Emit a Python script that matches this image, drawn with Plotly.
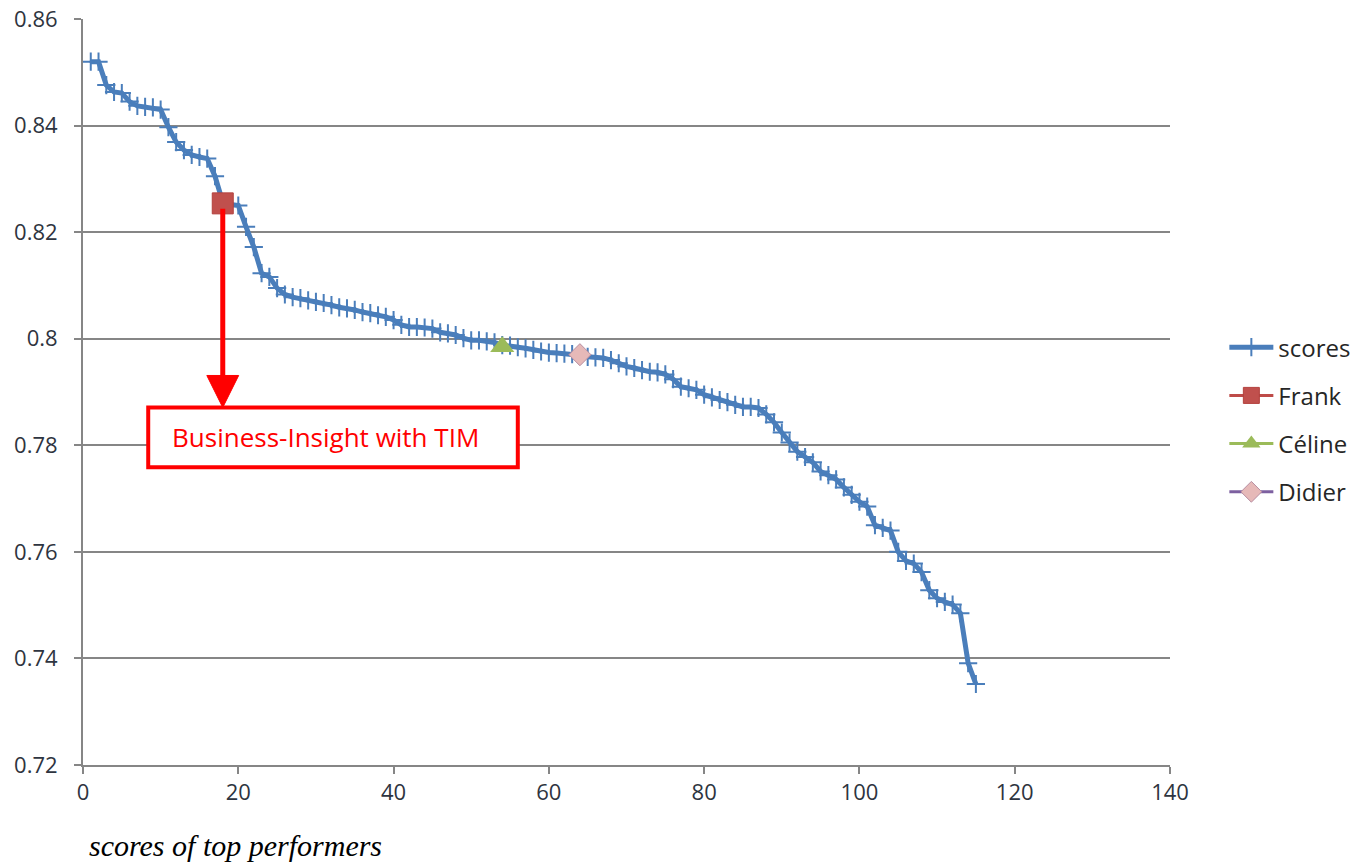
import plotly.graph_objects as go

# ---- data ----
ranks = list(range(1, 116))
scores = [
    0.8520, 0.8520, 0.8476, 0.8463, 0.8461, 0.8445, 0.8437, 0.8435, 0.8434, 0.8430,
    0.8397, 0.8369, 0.8354, 0.8345, 0.8341, 0.8338, 0.8305, 0.8256, 0.8252, 0.8250,
    0.8210, 0.8172, 0.8123, 0.8116, 0.8095, 0.8083, 0.8078, 0.8076, 0.8072, 0.8069,
    0.8067, 0.8063, 0.8059, 0.8057, 0.8054, 0.8050, 0.8048, 0.8044, 0.8041, 0.8035,
    0.8026, 0.8022, 0.8022, 0.8021, 0.8019, 0.8012, 0.8010, 0.8007, 0.8001, 0.7997,
    0.7997, 0.7995, 0.7993, 0.7988, 0.7987, 0.7984, 0.7982, 0.7979, 0.7976, 0.7974,
    0.7973, 0.7972, 0.7971, 0.7969, 0.7966, 0.7965, 0.7964, 0.7960, 0.7954, 0.7948,
    0.7945, 0.7941, 0.7938, 0.7937, 0.7933, 0.7924, 0.7910, 0.7907, 0.7904, 0.7895,
    0.7890, 0.7885, 0.7881, 0.7876, 0.7872, 0.7872, 0.7870, 0.7858, 0.7843, 0.7824,
    0.7805, 0.7788, 0.7778, 0.7768, 0.7751, 0.7744, 0.7736, 0.7721, 0.7707, 0.7694,
    0.7685, 0.7650, 0.7645, 0.7640, 0.7600, 0.7583, 0.7578, 0.7562, 0.7528, 0.7513,
    0.7506, 0.7501, 0.7485, 0.7391, 0.7352,
]
frank_x = [18]
frank_y = [0.8254]
celine_x = [54]
celine_y = [0.7985]
didier_x = [64]
didier_y = [0.7970]

y_tickvals = [0.72, 0.74, 0.76, 0.78, 0.80, 0.82, 0.84, 0.86]
y_ticktext = ["0.72", "0.74", "0.76", "0.78", "0.8", "0.82", "0.84", "0.86"]
x_tickvals = [0, 20, 40, 60, 80, 100, 120, 140]

annotation_text = "Business-Insight with TIM"
xaxis_caption = "scores of top performers"

# ---- figure ----
BLUE = "#4A7EBB"
RED = "#C0504D"
GREEN = "#9BBB59"
PURPLE = "#7D60A0"
PINK = "#E6B9B8"
GRID = "#868686"
TXT = "#2E3440"
FONT = "Open Sans"

fig = go.Figure()
fig.add_trace(go.Scatter(
    x=ranks, y=scores, name="scores", mode="lines+markers", legendgroup="a",
    line=dict(color=BLUE, width=5),
    marker=dict(symbol="cross-thin", size=13, color=BLUE, line=dict(width=2, color=BLUE)),
))
fig.add_trace(go.Scatter(
    x=frank_x, y=frank_y, name="Frank", mode="lines+markers", legendgroup="b",
    line=dict(color="#BE4B48", width=3),
    marker=dict(symbol="square", size=21, color=RED, line=dict(width=1, color="#B3403D")),
))
fig.add_trace(go.Scatter(
    x=celine_x, y=celine_y, name="Céline", mode="lines+markers", legendgroup="c",
    line=dict(color=GREEN, width=3),
    marker=dict(symbol="triangle-up", size=21, color=GREEN),
))
fig.add_trace(go.Scatter(
    x=didier_x, y=didier_y, name="Didier", mode="lines+markers", legendgroup="d",
    line=dict(color=PURPLE, width=3),
    marker=dict(symbol="diamond", size=17, color=PINK, line=dict(width=1, color="#B78DA0")),
))

# annotation: arrow from Frank down to the box
box_x0, box_x1 = 8.4, 56.0
box_y0, box_y1 = 0.7759, 0.7871
arrow_tip_y = box_y1
head_len = 0.0060
head_half = 2.05
fig.add_shape(type="line", xref="x", yref="y",
              x0=frank_x[0], x1=frank_x[0], y0=frank_y[0] - 0.001, y1=arrow_tip_y + head_len - 0.0005,
              line=dict(color="#FF0000", width=5))
fig.add_shape(type="path", xref="x", yref="y",
              path=f"M {frank_x[0]-head_half},{arrow_tip_y+head_len} L {frank_x[0]+head_half},{arrow_tip_y+head_len} L {frank_x[0]},{arrow_tip_y} Z",
              fillcolor="#FF0000", line=dict(color="#FF0000", width=1))
fig.add_shape(type="rect", xref="x", yref="y",
              x0=box_x0, x1=box_x1, y0=box_y0, y1=box_y1,
              line=dict(color="#FF0000", width=4), fillcolor="white", layer="above")
fig.add_annotation(x=box_x0 + 2.8, y=(box_y0 + box_y1) / 2, xref="x", yref="y",
                   text=annotation_text, showarrow=False, xanchor="left", yanchor="middle",
                   font=dict(family=FONT, size=26, color="#FF0000"))
fig.add_annotation(x=0.004, y=-0.108, xref="paper", yref="paper",
                   text=xaxis_caption, showarrow=False, xanchor="left", yanchor="middle",
                   font=dict(family="Liberation Serif", size=30, color="black", style="italic"))

fig.update_layout(
    width=1368, height=866,
    margin=dict(l=83, r=198, t=19, b=101, autoexpand=False),
    paper_bgcolor="white", plot_bgcolor="white",
    font=dict(family=FONT, size=22, color=TXT),
    showlegend=True,
    legend=dict(x=1.05, y=0.463, xanchor="left", yanchor="middle",
                font=dict(family=FONT, size=24, color="#262626"),
                tracegroupgap=14, itemwidth=44),
    xaxis=dict(range=[0, 140], tickvals=x_tickvals, showgrid=False, automargin=False,
               showline=True, linecolor=GRID, linewidth=2,
               ticks="outside", ticklen=7, tickcolor=GRID, tickwidth=2,
               zeroline=False, tickfont=dict(size=22, color=TXT)),
    yaxis=dict(range=[0.72, 0.86], tickvals=y_tickvals, ticktext=y_ticktext, automargin=False,
               showgrid=True, gridcolor=GRID, gridwidth=2,
               showline=True, linecolor=GRID, linewidth=2,
               ticks="outside", ticklen=7, tickcolor=GRID, tickwidth=2,
               ticklabelstandoff=12,
               zeroline=False, tickfont=dict(size=22, color=TXT)),
)

fig.write_html("out.html")
